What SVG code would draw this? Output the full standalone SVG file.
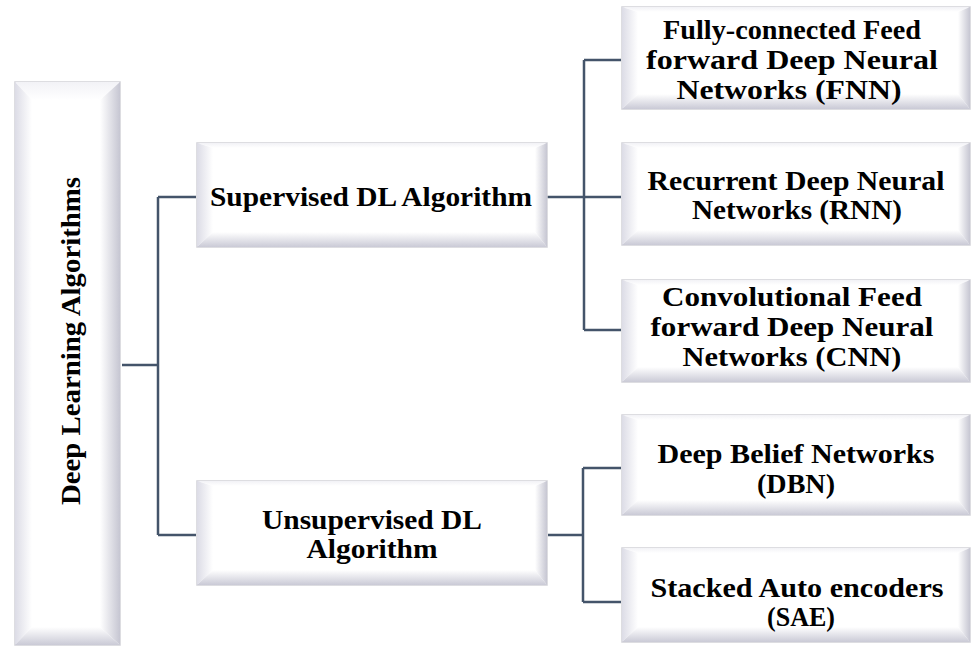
<svg xmlns="http://www.w3.org/2000/svg" width="971" height="650" viewBox="0 0 971 650">
<defs>
  <linearGradient id="gR" x1="0" y1="0" x2="1" y2="0">
    <stop offset="0" stop-color="#ffffff"/>
    <stop offset="1" stop-color="#c6c6d2"/>
  </linearGradient>
  <linearGradient id="gL" x1="0" y1="0" x2="1" y2="0">
    <stop offset="0" stop-color="#dcdce6"/>
    <stop offset="1" stop-color="#ffffff"/>
  </linearGradient>
  <linearGradient id="gB" x1="0" y1="0" x2="0" y2="1">
    <stop offset="0" stop-color="#ffffff"/>
    <stop offset="1" stop-color="#cacad6"/>
  </linearGradient>
  <linearGradient id="gT" x1="0" y1="0" x2="0" y2="1">
    <stop offset="0" stop-color="#f2f2f6"/>
    <stop offset="1" stop-color="#ffffff"/>
  </linearGradient>
</defs>
<style>
  .edge { fill: #ffffff; stroke: #d2d2d8; stroke-width: 1.5; }
  .bl { fill: url(#gL); }
  .br { fill: url(#gR); }
  .bb { fill: url(#gB); }
  .bt { fill: url(#gT); }
  .lbl { font-family: "Liberation Serif", "DejaVu Serif", serif; font-weight: bold; font-size: 28px; fill: #000000; text-anchor: middle; }
  .conn { fill: none; stroke: #44546a; stroke-width: 2.5; }
</style>
<rect width="971" height="650" fill="#ffffff"/>

<g id="connectors">
  <path class="conn" d="M122,365 H158 M158,197 V535 M158,197 H196 M158,535 H196"/>
  <path class="conn" d="M547,197 H584 M584,60 V330 M584,60 H621 M584,197 H621 M584,330 H621"/>
  <path class="conn" d="M548,535 H583 M583,468 V602 M583,468 H621 M583,602 H621"/>
</g>

<g id="root">
  <rect class="edge" x="15" y="82" width="105" height="563"/>
  <polygon class="bt" points="15,82 120,82 100,100 32,100"/>
  <polygon class="bl" points="15,82 32,100 32,627 15,645"/>
  <polygon class="br" points="120,82 100,100 100,627 120,645"/>
  <polygon class="bb" points="15,645 32,627 100,627 120,645"/>
  <text class="lbl" transform="translate(80,341) rotate(-90)" x="0" y="0" textLength="328" lengthAdjust="spacingAndGlyphs">Deep Learning Algorithms</text>
</g>

<g id="supervised">
  <rect class="edge" x="197" y="143" width="350" height="104"/>
  <polygon class="bt" points="197,143 547,143 535,148 213,148"/>
  <polygon class="bl" points="197,143 213,148 213,232 197,247"/>
  <polygon class="br" points="547,143 535,148 535,232 547,247"/>
  <polygon class="bb" points="197,247 213,232 535,232 547,247"/>
  <text class="lbl" x="371" y="206" textLength="322" lengthAdjust="spacingAndGlyphs">Supervised DL Algorithm</text>
</g>

<g id="unsupervised">
  <rect class="edge" x="197" y="481" width="350" height="104"/>
  <polygon class="bt" points="197,481 547,481 535,486 213,486"/>
  <polygon class="bl" points="197,481 213,486 213,570 197,585"/>
  <polygon class="br" points="547,481 535,486 535,570 547,585"/>
  <polygon class="bb" points="197,585 213,570 535,570 547,585"/>
  <text class="lbl" x="372" y="529" textLength="220" lengthAdjust="spacingAndGlyphs">Unsupervised DL</text>
  <text class="lbl" x="372" y="558" textLength="131" lengthAdjust="spacingAndGlyphs">Algorithm</text>
</g>

<g id="fnn">
  <rect class="edge" x="622" y="7" width="348" height="102"/>
  <polygon class="bt" points="622,7 970,7 958,12 638,12"/>
  <polygon class="bl" points="622,7 638,12 638,94 622,109"/>
  <polygon class="br" points="970,7 958,12 958,94 970,109"/>
  <polygon class="bb" points="622,109 638,94 958,94 970,109"/>
  <text class="lbl" x="792" y="39" textLength="258" lengthAdjust="spacingAndGlyphs">Fully-connected Feed</text>
  <text class="lbl" x="792" y="69" textLength="292" lengthAdjust="spacingAndGlyphs">forward Deep Neural</text>
  <text class="lbl" x="789" y="99" textLength="225" lengthAdjust="spacingAndGlyphs">Networks (FNN)</text>
</g>

<g id="rnn">
  <rect class="edge" x="622" y="143" width="348" height="102"/>
  <polygon class="bt" points="622,143 970,143 958,148 638,148"/>
  <polygon class="bl" points="622,143 638,148 638,230 622,245"/>
  <polygon class="br" points="970,143 958,148 958,230 970,245"/>
  <polygon class="bb" points="622,245 638,230 958,230 970,245"/>
  <text class="lbl" x="796" y="190" textLength="297" lengthAdjust="spacingAndGlyphs">Recurrent Deep Neural</text>
  <text class="lbl" x="797" y="219" textLength="210" lengthAdjust="spacingAndGlyphs">Networks (RNN)</text>
</g>

<g id="cnn">
  <rect class="edge" x="622" y="280" width="348" height="102"/>
  <polygon class="bt" points="622,280 970,280 958,285 638,285"/>
  <polygon class="bl" points="622,280 638,285 638,367 622,382"/>
  <polygon class="br" points="970,280 958,285 958,367 970,382"/>
  <polygon class="bb" points="622,382 638,367 958,367 970,382"/>
  <text class="lbl" x="792" y="306" textLength="260" lengthAdjust="spacingAndGlyphs">Convolutional Feed</text>
  <text class="lbl" x="792" y="336" textLength="283" lengthAdjust="spacingAndGlyphs">forward Deep Neural</text>
  <text class="lbl" x="792" y="366" textLength="219" lengthAdjust="spacingAndGlyphs">Networks (CNN)</text>
</g>

<g id="dbn">
  <rect class="edge" x="622" y="415" width="348" height="100"/>
  <polygon class="bt" points="622,415 970,415 958,420 638,420"/>
  <polygon class="bl" points="622,415 638,420 638,500 622,515"/>
  <polygon class="br" points="970,415 958,420 958,500 970,515"/>
  <polygon class="bb" points="622,515 638,500 958,500 970,515"/>
  <text class="lbl" x="796" y="463" textLength="277" lengthAdjust="spacingAndGlyphs">Deep Belief Networks</text>
  <text class="lbl" x="796" y="493" textLength="78" lengthAdjust="spacingAndGlyphs">(DBN)</text>
</g>

<g id="sae">
  <rect class="edge" x="622" y="548" width="348" height="94"/>
  <polygon class="bt" points="622,548 970,548 958,553 638,553"/>
  <polygon class="bl" points="622,548 638,553 638,627 622,642"/>
  <polygon class="br" points="970,548 958,553 958,627 970,642"/>
  <polygon class="bb" points="622,642 638,627 958,627 970,642"/>
  <text class="lbl" x="797" y="597" textLength="293" lengthAdjust="spacingAndGlyphs">Stacked Auto encoders</text>
  <text class="lbl" x="801" y="626" textLength="68" lengthAdjust="spacingAndGlyphs">(SAE)</text>
</g>
</svg>
